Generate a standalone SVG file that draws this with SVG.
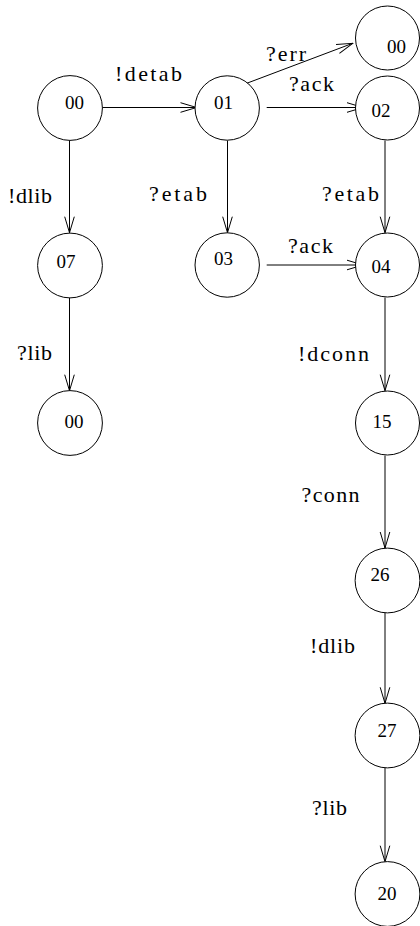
<svg xmlns="http://www.w3.org/2000/svg" width="420" height="926" viewBox="0 0 420 926">
<style>
.node circle{fill:#fff;stroke:#000;stroke-width:1}
.node text{font-family:"Liberation Serif","Times New Roman",serif;font-size:19px;fill:#000}
.edge line{stroke:#000;stroke-width:1;fill:none;marker-end:url(#arr)}
.lbl{font-family:"Liberation Serif","Times New Roman",serif;font-size:22px;fill:#000}
</style>
<defs>
<marker id="arr" markerUnits="userSpaceOnUse" viewBox="-17 -6 18 12" markerWidth="18" markerHeight="12" refX="0" refY="0" orient="auto">
<path d="M-16,-4.8 L0,0 L-16,4.8" fill="none" stroke="#000" stroke-width="1"/>
</marker>
</defs>
<rect width="420" height="926" fill="#fff"/>
<g id="connectors" class="edge">
<line x1="102.5" y1="107.5" x2="196.5" y2="107.5"/>
<line x1="266.7" y1="107.5" x2="363" y2="107.5"/>
<line x1="246.7" y1="83.3" x2="352.7" y2="43.3"/>
<line x1="69.5" y1="140.5" x2="69.5" y2="232.7"/>
<line x1="227.5" y1="140.5" x2="227.5" y2="232.7"/>
<line x1="385" y1="140.5" x2="385" y2="232.7"/>
<line x1="266.7" y1="265" x2="363" y2="265"/>
<line x1="69.5" y1="298" x2="69.5" y2="390.7"/>
<line x1="385" y1="297.5" x2="385" y2="390.7"/>
<line x1="385" y1="455.5" x2="385" y2="548"/>
<line x1="385" y1="613" x2="385" y2="703.3"/>
<line x1="385" y1="768" x2="385" y2="861.7"/>
</g>
<g id="labels">
<text class="lbl" x="115" y="81" textLength="67" lengthAdjust="spacing">!detab</text>
<text class="lbl" x="266" y="60.5" textLength="40" lengthAdjust="spacing">?err</text>
<text class="lbl" x="289" y="91" textLength="45" lengthAdjust="spacing">?ack</text>
<text class="lbl" x="8" y="203" textLength="44" lengthAdjust="spacing">!dlib</text>
<text class="lbl" x="149" y="200.5" textLength="58" lengthAdjust="spacing">?etab</text>
<text class="lbl" x="322" y="200.5" textLength="57" lengthAdjust="spacing">?etab</text>
<text class="lbl" x="288" y="253" textLength="45" lengthAdjust="spacing">?ack</text>
<text class="lbl" x="17" y="360" textLength="35" lengthAdjust="spacing">?lib</text>
<text class="lbl" x="298" y="361" textLength="71" lengthAdjust="spacing">!dconn</text>
<text class="lbl" x="301.5" y="502" textLength="58" lengthAdjust="spacing">?conn</text>
<text class="lbl" x="310" y="653" textLength="45" lengthAdjust="spacing">!dlib</text>
<text class="lbl" x="312" y="815" textLength="35" lengthAdjust="spacing">?lib</text>
</g>
<g id="n00a" class="node"><circle cx="70" cy="108" r="32.4"/><text x="65" y="108.5">00</text></g>
<g id="n01" class="node"><circle cx="227.2" cy="108" r="32.2"/><text x="214" y="108.5">01</text></g>
<g id="n00b" class="node"><circle cx="387.5" cy="38" r="32"/><text x="387" y="53">00</text></g>
<g id="n02" class="node"><circle cx="387.5" cy="108" r="32"/><text x="371.5" y="116.5">02</text></g>
<g id="n07" class="node"><circle cx="70" cy="265.5" r="32.4"/><text x="56.5" y="268">07</text></g>
<g id="n03" class="node"><circle cx="227.2" cy="265" r="32.2"/><text x="214" y="264.5">03</text></g>
<g id="n04" class="node"><circle cx="387.5" cy="265" r="32"/><text x="371.5" y="273">04</text></g>
<g id="n00c" class="node"><circle cx="70" cy="423" r="32.4"/><text x="64.5" y="428.3">00</text></g>
<g id="n15" class="node"><circle cx="387.5" cy="423" r="32"/><text x="372.5" y="428.3">15</text></g>
<g id="n26" class="node"><circle cx="387.5" cy="580.5" r="32.4"/><text x="370.5" y="581">26</text></g>
<g id="n27" class="node"><circle cx="387.5" cy="735.5" r="32.4"/><text x="377.5" y="737">27</text></g>
<g id="n20" class="node"><circle cx="387.5" cy="894" r="32.4"/><text x="377.5" y="900">20</text></g>
</svg>
